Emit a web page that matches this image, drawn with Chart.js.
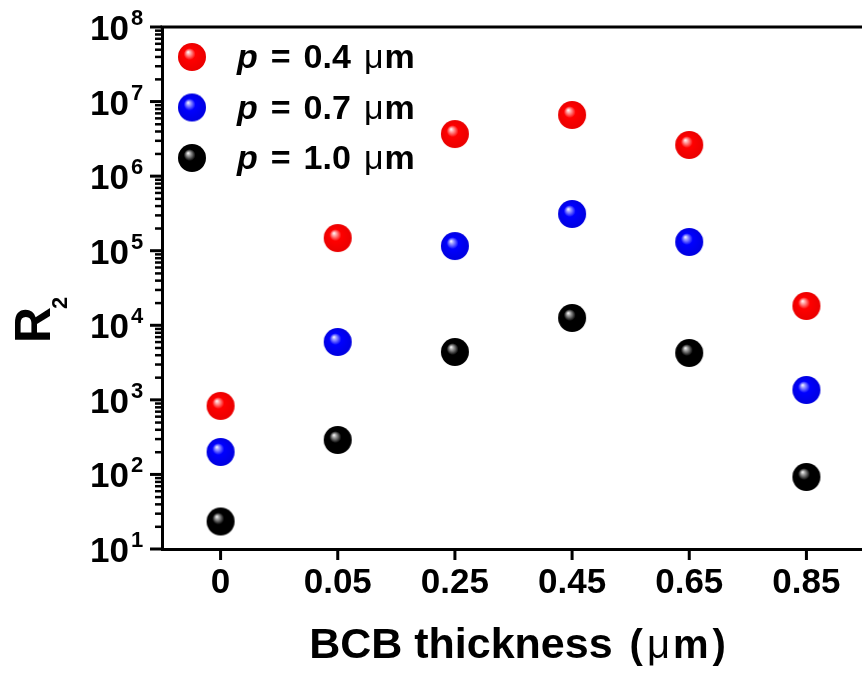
<!DOCTYPE html>
<html>
<head>
<meta charset="utf-8">
<title>R2 vs BCB thickness</title>
<script src="https://cdn.jsdelivr.net/npm/chart.js@4.4.1/dist/chart.umd.min.js"></script>
<style>
    html, body { margin: 0; padding: 0; background: #fff; overflow: hidden; }
    #wrap { width: 862px; height: 673px; overflow: hidden; }
</style>
</head>
<body>
<div id="wrap">
    <canvas id="r2Chart" width="880" height="673"></canvas>
</div>
<script>

// BCB thickness categories (µm)
const thickness = ["0", "0.05", "0.25", "0.45", "0.65", "0.85"];

// R2 for each period p
const r2P04 = [830, 148000, 3670000, 6610000, 2620000, 18150];
const r2P07 = [200, 5970, 115600, 311000, 131000, 1356];
const r2P10 = [23.4, 290, 4385, 12530, 4250, 92.4];

const periods = ["0.4", "0.7", "1.0"];

// log axis decades shown on the left
const yExponents = [1, 2, 3, 4, 5, 6, 7, 8];

const FONT = "'Liberation Sans', Arial, sans-serif";

// little shaded ball used as the point marker
function makeSphere(base, shine, edge){
    const c = document.createElement("canvas");
    c.width = 30;
    c.height = 30;
    const g = c.getContext("2d");
    const grad = g.createRadialGradient(11, 10, 0, 15, 15, 14);
    grad.addColorStop(0, "#ffffff");
    grad.addColorStop(0.14, shine);
    grad.addColorStop(0.42, base);
    grad.addColorStop(1, edge);
    g.fillStyle = grad;
    g.beginPath();
    g.arc(15, 15, 14, 0, Math.PI * 2);
    g.fill();
    return c;
}

const balls = [
    makeSphere("#ff0000", "#ffa8a8", "#ea0000"),
    makeSphere("#0000ff", "#a0a0ff", "#0000e0"),
    makeSphere("#000000", "#a4a4a4", "#000000")
];

// frame top line, ticks, 10^n labels, axis titles, legend
const decorations = {
    id: "decorations",
    afterDraw(chart){
        const ctx = chart.ctx;
        const area = chart.chartArea;
        const x = chart.scales.x;
        const y = chart.scales.y;

        ctx.save();
        ctx.fillStyle = "#000";

        // top frame line
        ctx.fillRect(area.left - 1.5, area.top - 1.5, area.right - area.left + 1.5, 3);

        // ticks under each category
        thickness.forEach((_, i) => {
            const px = x.getPixelForValue(i);
            ctx.fillRect(px - 1.5, area.bottom, 3, 11);
        });

        // major + minor ticks on the log axis
        yExponents.forEach((e, k) => {
            const py = y.getPixelForValue(Math.pow(10, e));
            ctx.fillRect(area.left - 12, py - 1.5, 12, 3);
            if(k === yExponents.length - 1) return;
            for(let m = 2; m <= 9; m++){
                const my = y.getPixelForValue(m * Math.pow(10, e));
                ctx.fillRect(area.left - 7, my - 1, 7, 2.5);
            }
        });

        // 10^n labels
        ctx.textBaseline = "alphabetic";
        yExponents.forEach(e => {
            const py = y.getPixelForValue(Math.pow(10, e));
            ctx.font = `bold 35px ${FONT}`;
            ctx.textAlign = "right";
            ctx.fillText("10", 129, py + 13);
            ctx.font = `bold 22px ${FONT}`;
            ctx.textAlign = "left";
            ctx.fillText(String(e), 131, py - 2);
        });

        // y title: R with subscript 2, rotated
        ctx.save();
        ctx.translate(50, 343);
        ctx.rotate(-Math.PI / 2);
        ctx.textAlign = "left";
        ctx.font = `bold 50px ${FONT}`;
        ctx.fillText("R", 0, 0);
        const rw = ctx.measureText("R").width;
        ctx.font = `bold 22px ${FONT}`;
        ctx.fillText("2", rw - 2, 17);
        ctx.restore();

        // x title
        const parts = [
            { t: "BCB thickness", f: `bold 43px ${FONT}`, gap: 17 },
            { t: "(", f: `bold 40px ${FONT}`, gap: 4 },
            { t: "μ", f: `40px ${FONT}`, gap: 3 },
            { t: "m", f: `bold 40px ${FONT}`, gap: 4 },
            { t: ")", f: `bold 40px ${FONT}`, gap: 0 }
        ];
        let total = 0;
        parts.forEach(p => { ctx.font = p.f; total += ctx.measureText(p.t).width + p.gap; });
        let tx = (area.left + area.right) / 2 + 4 - total / 2;
        ctx.textAlign = "left";
        parts.forEach(p => {
            ctx.font = p.f;
            ctx.fillText(p.t, tx, 658);
            tx += ctx.measureText(p.t).width + p.gap;
        });

        // legend
        chart.data.datasets.forEach((ds, i) => {
            const rowY = 57 + i * 50.5;
            const img = ds.pointStyle;
            ctx.drawImage(img, 192 - img.width / 2, rowY - img.height / 2);
            const seg = [
                { t: "p", f: `italic bold 34px ${FONT}`, gap: 13 },
                { t: "=", f: `bold 34px ${FONT}`, gap: 13 },
                { t: periods[i], f: `bold 34px ${FONT}`, gap: 13 },
                { t: "μ", f: `34px ${FONT}`, gap: 1 },
                { t: "m", f: `bold 34px ${FONT}`, gap: 0 }
            ];
            let lx = 237;
            seg.forEach(s => {
                ctx.font = s.f;
                ctx.fillText(s.t, lx, rowY + 11);
                lx += ctx.measureText(s.t).width + s.gap;
            });
        });

        ctx.restore();
    }
};

new Chart(document.getElementById("r2Chart"), {
    type: "line",
    data: {
        labels: thickness,
        datasets: [r2P04, r2P07, r2P10].map((vals, i) => ({
            label: `p = ${periods[i]} μm`,
            data: vals,
            showLine: false,
            pointStyle: balls[i],
            pointRadius: 14,
            pointHoverRadius: 14
        }))
    },
    options: {
        responsive: false,
        animation: false,
        devicePixelRatio: 1,
        layout: { padding: { top: 27, right: 12, left: 0, bottom: 0 } },
        plugins: {
            legend: { display: false },
            tooltip: { enabled: false }
        },
        scales: {
            x: {
                type: "category",
                offset: true,
                grid: { display: false, drawTicks: true, tickLength: 10 },
                border: { display: true, color: "#000", width: 3 },
                ticks: {
                    color: "#000",
                    padding: 3,
                    maxRotation: 0,
                    font: { family: FONT, size: 35, weight: "bold" }
                },
                afterFit(scale){ scale.height = 124; }
            },
            y: {
                type: "logarithmic",
                min: 10,
                max: 1e8,
                grid: { display: false },
                border: { display: true, color: "#000", width: 3 },
                ticks: { display: false },
                afterFit(scale){ scale.width = 162; }
            }
        }
    },
    plugins: [decorations]
});
</script>
</body>
</html>
